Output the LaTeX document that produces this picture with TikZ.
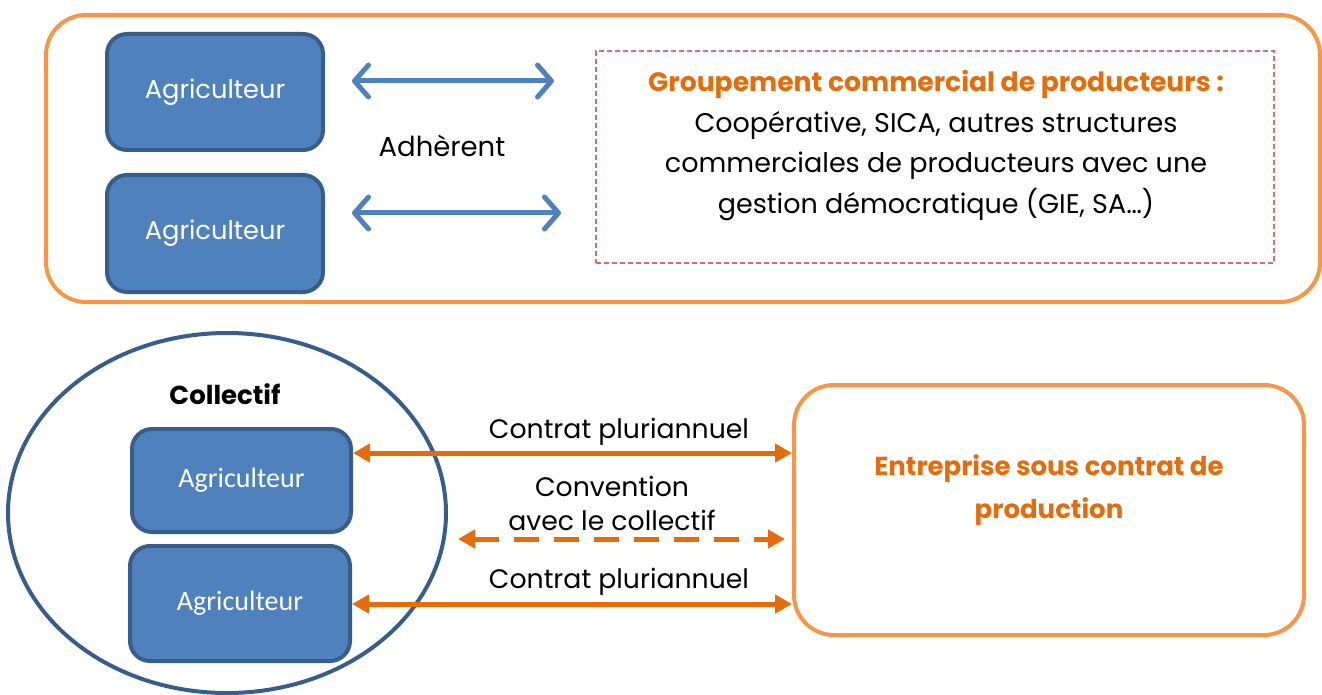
\documentclass[tikz,border=0pt]{standalone}
\usepackage{fontspec}
\setmainfont{Poppins}
\newfontfamily\calib{Carlito}
\usetikzlibrary{arrows.meta,shapes.geometric}
\definecolor{orLine}{HTML}{F79646}
\definecolor{orDark}{HTML}{E46C0A}
\definecolor{bFill}{HTML}{4F81BD}
\definecolor{bLine}{HTML}{385D8A}
\definecolor{dRed}{HTML}{D07070}
\begin{document}
\begin{tikzpicture}[x=1pt,y=-1pt,
  agri/.style={draw=bLine, fill=bFill, line width=4pt, rounded corners=20pt, text=white, inner sep=0pt},
  outerbox/.style={draw=orLine, line width=4pt, rounded corners=40pt, inner sep=0pt},
  barr/.style={draw=bFill, line width=5pt, line cap=round,
    {Straight Barb[length=14pt,width=32pt,line cap=round,line join=round]}-{Straight Barb[length=14pt,width=32pt,line cap=round,line join=round]}},
  oarr/.style={draw=orDark, line width=5pt, {Triangle[length=17pt,width=18pt]}-{Triangle[length=17pt,width=18pt]}},
  lbl/.style={font=\fontsize{26.7}{34}\selectfont, inner sep=0pt, align=center},
  btitle/.style={font=\fontsize{26}{43}\selectfont\bfseries, text=orDark, inner sep=0pt, align=center}
]
\useasboundingbox (0,0) rectangle (1322,695);

% top section
\node[outerbox, minimum width=1274pt, minimum height=287pt] (top) at (683,158.5) {};
\node[agri, minimum width=216pt, minimum height=116pt, font=\fontsize{25.7}{32}\selectfont] (a1) at (215,92) {Agriculteur};
\node[agri, minimum width=216pt, minimum height=117pt, font=\fontsize{25.7}{32}\selectfont] (a2) at (215,233.5) {Agriculteur};
\node[draw=dRed, line width=1.2pt, dash pattern=on 5pt off 3pt, minimum width=678pt, minimum height=212pt, inner sep=0pt] (grp) at (935,157) {};
\node[inner sep=0pt, align=center, font=\fontsize{27}{40.5}\selectfont] (grptxt) at (936,145.5)
  {{\fontsize{26.6}{40.5}\selectfont\bfseries\color{orDark}Groupement commercial de producteurs :}\\
   Coopérative, SICA, autres structures\\
   commerciales de producteurs avec une\\
   gestion démocratique (GIE, SA…)};
\node[lbl, font=\fontsize{27.5}{32}\selectfont] (adh) at (442,146) {Adhèrent};
\coordinate (t1l) at (352,81);
\coordinate (t1r) at (554,81);
\coordinate (t2l) at (352,213);
\coordinate (t2r) at (561,213);
\draw[barr] (t1l) -- (t1r);
\draw[barr] (t2l) -- (t2r);

% bottom section
\node[draw=bLine, line width=4pt, ellipse, minimum width=438pt, minimum height=360pt, inner sep=0pt] (coll) at (227,513) {};
\node[inner sep=0pt, font=\fontsize{26}{30}\selectfont\bfseries] (colltxt) at (225,394) {Collectif};
\node[agri, minimum width=219pt, minimum height=103pt, font=\calib\fontsize{28}{32}\selectfont] (b1) at (241.5,480.5) {Agriculteur};
\node[agri, minimum width=220pt, minimum height=115pt, font=\calib\fontsize{28}{32}\selectfont] (b2) at (240,603.5) {Agriculteur};
\node[outerbox, minimum width=510pt, minimum height=250pt] (ent) at (1049,510) {};
\node[btitle] (enttxt) at (1049,490) {Entreprise sous contrat de\\production};

\path (coll.east |- 0,539) ++(10,0) coordinate (dl);
\path (ent.west |- 0,539) ++(-7,0) coordinate (dr);
\draw[oarr] (b1.east |- 0,453) -- (ent.west |- 0,453);
\draw[oarr, dash pattern=on 25pt off 15pt] (dl) -- (dr);
\draw[oarr] (b2.east |- 0,604) -- (ent.west |- 0,604);

\node[lbl] (c1) at (619,432) {Contrat pluriannuel};
\node[lbl] (conv) at (612,503) {Convention\\avec le collectif};
\node[lbl] (c2) at (619,582) {Contrat pluriannuel};
\end{tikzpicture}
\end{document}
